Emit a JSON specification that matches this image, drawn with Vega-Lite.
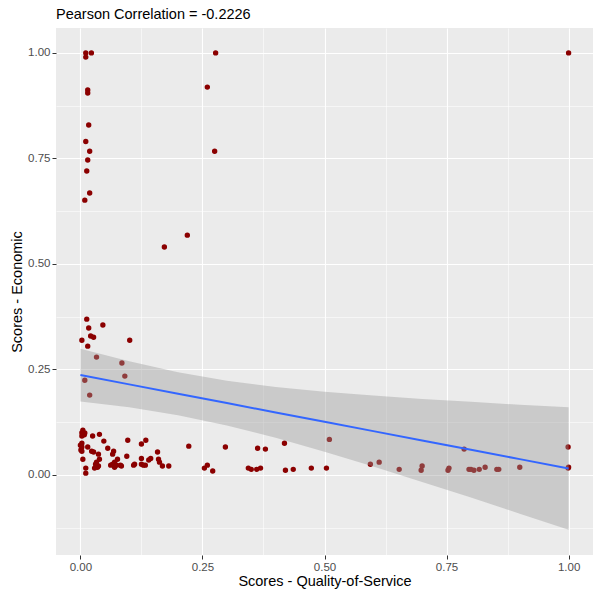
{
  "$schema": "https://vega.github.io/schema/vega-lite/v6.json",
  "width": 537,
  "height": 527,
  "autosize": "none",
  "padding": {"left": 56, "top": 28, "right": 7, "bottom": 45},
  "background": "white",
  "title": {
    "text": "Pearson Correlation = -0.2226",
    "anchor": "start",
    "frame": "group",
    "font": "Liberation Sans",
    "fontSize": 14.5,
    "fontWeight": "normal",
    "color": "black",
    "offset": 6
  },
  "datasets": {
    "points": [
      {"qos": 0.011, "eco": 1.0}, {"qos": 0.0225, "eco": 1.0}, {"qos": 0.011, "eco": 0.99}, {"qos": 0.277, "eco": 1.0},
      {"qos": 0.015, "eco": 0.912}, {"qos": 0.015, "eco": 0.905}, {"qos": 0.26, "eco": 0.919}, {"qos": 0.017, "eco": 0.829},
      {"qos": 0.011, "eco": 0.79}, {"qos": 0.019, "eco": 0.767}, {"qos": 0.275, "eco": 0.767}, {"qos": 0.015, "eco": 0.746},
      {"qos": 0.013, "eco": 0.72}, {"qos": 0.019, "eco": 0.668}, {"qos": 0.009, "eco": 0.651}, {"qos": 0.219, "eco": 0.568},
      {"qos": 0.172, "eco": 0.54}, {"qos": 1.0, "eco": 1.0},
      {"qos": 0.013, "eco": 0.369}, {"qos": 0.017, "eco": 0.348}, {"qos": 0.046, "eco": 0.355}, {"qos": 0.021, "eco": 0.329},
      {"qos": 0.027, "eco": 0.326}, {"qos": 0.003, "eco": 0.319}, {"qos": 0.101, "eco": 0.319}, {"qos": 0.015, "eco": 0.305},
      {"qos": 0.033, "eco": 0.279}, {"qos": 0.085, "eco": 0.265}, {"qos": 0.091, "eco": 0.234}, {"qos": 0.009, "eco": 0.224},
      {"qos": 0.019, "eco": 0.189},
      {"qos": 0.005, "eco": 0.106}, {"qos": 0.003, "eco": 0.1}, {"qos": 0.009, "eco": 0.099}, {"qos": 0.003, "eco": 0.092},
      {"qos": 0.008, "eco": 0.095}, {"qos": 0.025, "eco": 0.092}, {"qos": 0.039, "eco": 0.096}, {"qos": 0.097, "eco": 0.082},
      {"qos": 0.134, "eco": 0.082}, {"qos": 0.048, "eco": 0.08}, {"qos": 0.125, "eco": 0.073}, {"qos": 0.0, "eco": 0.07},
      {"qos": 0.003, "eco": 0.075}, {"qos": 0.003, "eco": 0.066}, {"qos": 0.015, "eco": 0.066}, {"qos": 0.056, "eco": 0.063},
      {"qos": 0.222, "eco": 0.068}, {"qos": 0.297, "eco": 0.066}, {"qos": 0.001, "eco": 0.059}, {"qos": 0.003, "eco": 0.056},
      {"qos": 0.023, "eco": 0.056}, {"qos": 0.027, "eco": 0.054}, {"qos": 0.068, "eco": 0.056}, {"qos": 0.066, "eco": 0.049},
      {"qos": 0.037, "eco": 0.049}, {"qos": 0.158, "eco": 0.054}, {"qos": 0.095, "eco": 0.044}, {"qos": 0.005, "eco": 0.037},
      {"qos": 0.039, "eco": 0.037}, {"qos": 0.076, "eco": 0.037}, {"qos": 0.125, "eco": 0.039}, {"qos": 0.144, "eco": 0.039},
      {"qos": 0.14, "eco": 0.035}, {"qos": 0.16, "eco": 0.037}, {"qos": 0.162, "eco": 0.03}, {"qos": 0.033, "eco": 0.03},
      {"qos": 0.031, "eco": 0.025}, {"qos": 0.07, "eco": 0.03}, {"qos": 0.066, "eco": 0.025}, {"qos": 0.062, "eco": 0.023},
      {"qos": 0.07, "eco": 0.018}, {"qos": 0.074, "eco": 0.023}, {"qos": 0.082, "eco": 0.023}, {"qos": 0.084, "eco": 0.021},
      {"qos": 0.111, "eco": 0.025}, {"qos": 0.109, "eco": 0.023}, {"qos": 0.125, "eco": 0.025}, {"qos": 0.129, "eco": 0.023},
      {"qos": 0.133, "eco": 0.023}, {"qos": 0.168, "eco": 0.021}, {"qos": 0.181, "eco": 0.021}, {"qos": 0.029, "eco": 0.016},
      {"qos": 0.035, "eco": 0.018}, {"qos": 0.037, "eco": 0.021}, {"qos": 0.011, "eco": 0.016}, {"qos": 0.011, "eco": 0.004},
      {"qos": 0.254, "eco": 0.016}, {"qos": 0.26, "eco": 0.023}, {"qos": 0.271, "eco": 0.009},
      {"qos": 0.344, "eco": 0.016}, {"qos": 0.35, "eco": 0.013}, {"qos": 0.361, "eco": 0.013}, {"qos": 0.369, "eco": 0.016},
      {"qos": 0.363, "eco": 0.063}, {"qos": 0.379, "eco": 0.061}, {"qos": 0.418, "eco": 0.075}, {"qos": 0.51, "eco": 0.084},
      {"qos": 0.42, "eco": 0.011}, {"qos": 0.436, "eco": 0.013}, {"qos": 0.473, "eco": 0.016}, {"qos": 0.504, "eco": 0.016},
      {"qos": 0.594, "eco": 0.025}, {"qos": 0.612, "eco": 0.03}, {"qos": 0.653, "eco": 0.013}, {"qos": 0.7, "eco": 0.021},
      {"qos": 0.698, "eco": 0.011}, {"qos": 0.755, "eco": 0.016}, {"qos": 0.753, "eco": 0.011}, {"qos": 0.786, "eco": 0.061},
      {"qos": 0.796, "eco": 0.013}, {"qos": 0.8, "eco": 0.013}, {"qos": 0.806, "eco": 0.011}, {"qos": 0.817, "eco": 0.013},
      {"qos": 0.829, "eco": 0.018}, {"qos": 0.853, "eco": 0.013}, {"qos": 0.857, "eco": 0.013}, {"qos": 0.9, "eco": 0.018},
      {"qos": 0.999, "eco": 0.066}, {"qos": 1.0, "eco": 0.018}, {"qos": 0.999, "eco": 0.016}
    ],
    "smooth": [
      {"qos": 0.0, "fit": 0.2365, "lower": 0.174, "upper": 0.299},
      {"qos": 0.1, "fit": 0.2144, "lower": 0.16, "upper": 0.269},
      {"qos": 0.2, "fit": 0.1922, "lower": 0.141, "upper": 0.243},
      {"qos": 0.3, "fit": 0.1701, "lower": 0.117, "upper": 0.223},
      {"qos": 0.4, "fit": 0.1479, "lower": 0.088, "upper": 0.208},
      {"qos": 0.5, "fit": 0.1258, "lower": 0.055, "upper": 0.197},
      {"qos": 0.6, "fit": 0.1036, "lower": 0.02, "upper": 0.188},
      {"qos": 0.7, "fit": 0.0815, "lower": -0.017, "upper": 0.18},
      {"qos": 0.8, "fit": 0.0593, "lower": -0.054, "upper": 0.173},
      {"qos": 0.9, "fit": 0.0372, "lower": -0.092, "upper": 0.166},
      {"qos": 1.0, "fit": 0.015, "lower": -0.13, "upper": 0.16}
    ]
  },
  "encoding": {
    "x": {
      "field": "qos",
      "type": "quantitative",
      "scale": {"domain": [-0.05, 1.05], "nice": false, "zero": false},
      "axis": {
        "title": "Scores - Quality-of-Service",
        "values": [0, 0.125, 0.25, 0.375, 0.5, 0.625, 0.75, 0.875, 1],
        "labelExpr": "datum.value % 0.25 === 0 ? format(datum.value, '.2f') : ''",
        "gridWidth": {"condition": {"test": "datum.value % 0.25 === 0", "value": 1.1}, "value": 0.55},
        "tickOpacity": {"condition": {"test": "datum.value % 0.25 === 0", "value": 1}, "value": 0},
        "titlePadding": 2
      }
    }
  },
  "layer": [
    {
      "data": {"name": "points"},
      "mark": {"type": "circle", "color": "#8B0000", "opacity": 1, "size": 29},
      "encoding": {
        "y": {
          "field": "eco",
          "type": "quantitative",
          "scale": {"domain": [-0.19, 1.059], "nice": false, "zero": false},
          "axis": {
            "title": "Scores - Economic",
            "values": [-0.125, 0, 0.125, 0.25, 0.375, 0.5, 0.625, 0.75, 0.875, 1],
            "labelExpr": "datum.value % 0.25 === 0 ? format(datum.value, '.2f') : ''",
            "gridWidth": {"condition": {"test": "datum.value % 0.25 === 0", "value": 1.1}, "value": 0.55},
            "tickOpacity": {"condition": {"test": "datum.value % 0.25 === 0", "value": 1}, "value": 0},
            "titlePadding": 3
          }
        }
      }
    },
    {
      "data": {"name": "smooth"},
      "mark": {"type": "area", "color": "#999999", "opacity": 0.4},
      "encoding": {
        "y": {"field": "lower", "type": "quantitative"},
        "y2": {"field": "upper"}
      }
    },
    {
      "data": {"name": "smooth"},
      "mark": {"type": "line", "color": "#3366FF", "strokeWidth": 2},
      "encoding": {
        "y": {"field": "fit", "type": "quantitative"}
      }
    }
  ],
  "config": {
    "view": {"fill": "#EBEBEB", "stroke": null},
    "axis": {
      "domain": false,
      "gridColor": "white",
      "gridOpacity": 1,
      "tickColor": "#333333",
      "tickSize": 4,
      "tickWidth": 1,
      "labelFont": "Liberation Sans",
      "labelFontSize": 11.5,
      "labelColor": "#4D4D4D",
      "labelPadding": 2,
      "titleFont": "Liberation Sans",
      "titleFontSize": 14.5,
      "titleFontWeight": "normal",
      "titleColor": "black"
    }
  }
}
